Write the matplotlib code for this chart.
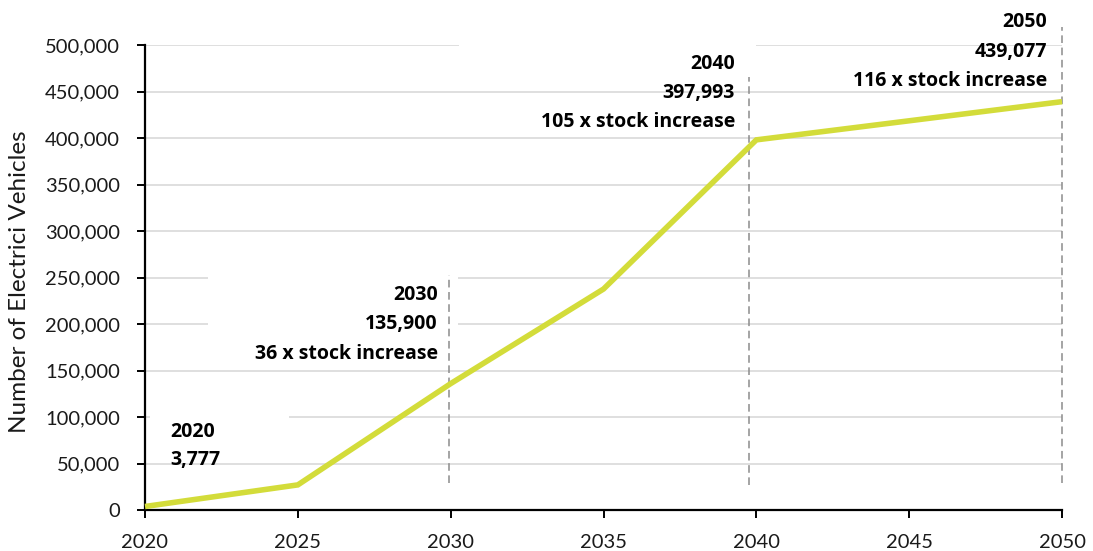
import matplotlib
matplotlib.use("Agg")
import matplotlib.pyplot as plt
from matplotlib.patches import Rectangle
from matplotlib.ticker import FuncFormatter

# ---- data ----
years = [2020, 2025, 2030, 2035, 2040, 2045, 2050]
ev_stock = [3777, 27000, 135900, 237600, 397993, 418500, 439077]
y_ticks = [0, 50000, 100000, 150000, 200000, 250000, 300000, 350000, 400000, 450000, 500000]
x_ticks = [2020, 2025, 2030, 2035, 2040, 2045, 2050]
ann_2020 = ["2020", "3,777"]
ann_2030 = ["2030", "135,900", "36 x stock increase"]
ann_2040 = ["2040", "397,993", "105 x stock increase"]
ann_2050 = ["2050", "439,077", "116 x stock increase"]
ylabel = "Number of Electrici Vehicles"

LINE_COLOR = "#D3DC3A"
GRID_COLOR = "#D9D9D9"
DASH_COLOR = "#8C8C8C"
TXT = "#1a1a1a"
TICKFAMILY = ["Lato", "DejaVu Sans"]
TICKSIZE = 14.5
BOLDFONT = dict(family=["Open Sans", "DejaVu Sans"], weight="bold", size=14, color="black")

fig = plt.figure(figsize=(10.93, 5.51), dpi=100)
ax = fig.add_axes([145 / 1093, 1 - 510 / 551, (1062 - 145) / 1093, (510 - 45) / 551])

ax.set_xlim(2020, 2050)
ax.set_ylim(0, 500000)
ax.set_xticks(x_ticks)
ax.set_yticks(y_ticks)
ax.yaxis.set_major_formatter(FuncFormatter(lambda v, p: f"{int(v):,}"))
ax.grid(axis="y", color=GRID_COLOR, linewidth=1.2)
ax.set_axisbelow(True)
for s in ["top", "right"]:
    ax.spines[s].set_visible(False)
for s in ["left", "bottom"]:
    ax.spines[s].set_color("black")
    ax.spines[s].set_linewidth(1.6)
ax.tick_params(axis="both", direction="out", length=6, width=1.4, color="black")
ax.tick_params(axis="y", pad=12)
ax.tick_params(axis="x", pad=11)
for lab in ax.get_xticklabels() + ax.get_yticklabels():
    lab.set_fontfamily(TICKFAMILY)
    lab.set_fontweight("normal")
    lab.set_fontsize(TICKSIZE)
    lab.set_color(TXT)
ax.set_ylabel(ylabel, fontfamily=TICKFAMILY, fontweight="normal", fontsize=17.5, color=TXT)
ax.yaxis.set_label_coords(-115 / 917, 0.492)

# white text-box backgrounds that interrupt the gridlines
for (x0, x1, y0, y1) in [(2020.16, 2024.71, 75000, 125000),
                         (2022.06, 2030.24, 152700, 258000),
                         (2030.27, 2039.99, 478000, 520000)]:
    ax.add_patch(Rectangle((x0, y0), x1 - x0, y1 - y0, facecolor="white",
                           edgecolor="none", zorder=1, clip_on=False))

# dashed markers
for (xv, y0, y1) in [(2029.94, 29000, 252700), (2039.76, 27000, 465600), (2050, 29000, 519000)]:
    ax.plot([xv, xv], [y0, y1], color=DASH_COLOR, linewidth=1.1,
            dashes=(5, 3), zorder=2, clip_on=False)

ax.plot(years, ev_stock, color=LINE_COLOR, linewidth=4.0, zorder=3,
        solid_capstyle="butt", solid_joinstyle="miter", clip_on=False)

def place(lines, x, y, ha, step=29.5):
    for i, t in enumerate(lines):
        ax.annotate(t, xy=(x, y), xytext=(0, -i * step), textcoords="offset pixels",
                    ha=ha, va="baseline", zorder=5, annotation_clip=False, **BOLDFONT)

px_y = lambda p: (510 - p) / 465 * 500000
px_x = lambda p: 2020 + (p - 145) / 917 * 30
place(ann_2020, px_x(170), px_y(437), "left", step=28)
place(ann_2030, px_x(438), px_y(300), "right")
place(ann_2040, px_x(735), px_y(69), "right", step=29)
place(ann_2050, px_x(1047), px_y(27), "right", step=29.5)

fig.savefig("out.png", dpi=100)
